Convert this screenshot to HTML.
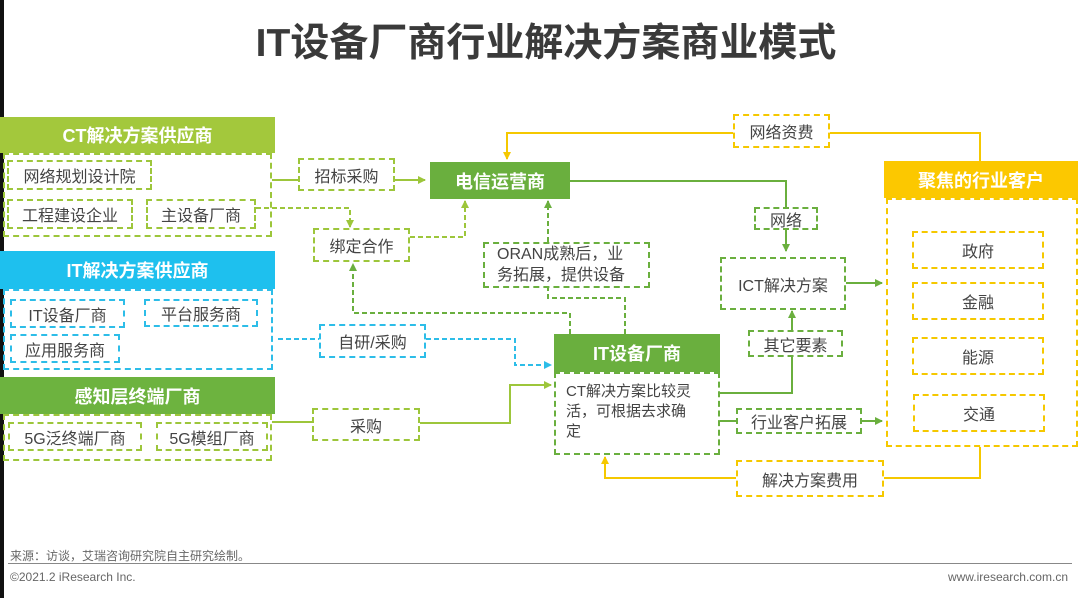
<!DOCTYPE html>
<html><head><meta charset="utf-8"><style>
body{margin:0;width:1080px;height:598px;position:relative;background:#fff;overflow:hidden;font-family:"Liberation Sans","Noto Sans CJK SC",sans-serif;color:#444}
.a{position:absolute;box-sizing:border-box;display:flex;align-items:center;justify-content:center;font-size:16px;white-space:nowrap}
.h{color:#fff;font-weight:bold;font-size:18px}
.g{border:2px dashed #9dc63b}
.c{border:2px dashed #2dbde8}
.y{border:2px dashed #f5c800}
.dg{border:2px dashed #6aaf3e}
svg{position:absolute;left:0;top:0}
</style></head><body>
<div style="position:absolute;left:0;top:0;width:4px;height:598px;background:#111"></div>
<div class="a" style="left:0;top:14px;width:1092px;height:52px;font-size:39px;font-weight:bold;color:#3a3a3a">IT设备厂商行业解决方案商业模式</div>

<svg width="1080" height="598">
<defs>
<marker id="mg" markerWidth="8" markerHeight="8" refX="7" refY="4" orient="auto" markerUnits="userSpaceOnUse"><path d="M0,0L8,4L0,8z" fill="#6aaf3e"/></marker>
<marker id="ml" markerWidth="8" markerHeight="8" refX="7" refY="4" orient="auto" markerUnits="userSpaceOnUse"><path d="M0,0L8,4L0,8z" fill="#9dc63b"/></marker>
<marker id="mc" markerWidth="8" markerHeight="8" refX="7" refY="4" orient="auto" markerUnits="userSpaceOnUse"><path d="M0,0L8,4L0,8z" fill="#2dbde8"/></marker>
<marker id="my" markerWidth="8" markerHeight="8" refX="7" refY="4" orient="auto" markerUnits="userSpaceOnUse"><path d="M0,0L8,4L0,8z" fill="#f5c800"/></marker>
</defs>
<g fill="none" stroke-width="2">
<path d="M272,180H298M395,180H425" stroke="#9dc63b" marker-end="url(#ml)"/>
<path d="M256,208H350V227" stroke="#9dc63b" stroke-dasharray="5,3" marker-end="url(#ml)"/>
<path d="M410,237H465V201" stroke="#9dc63b" stroke-dasharray="5,3" marker-end="url(#ml)"/>
<path d="M278,339H319M426,339H515V365H551" stroke="#2dbde8" stroke-dasharray="5,3" marker-end="url(#mc)"/>
<path d="M272,422H312M420,423H510V385H551" stroke="#9dc63b" marker-end="url(#ml)"/>
<path d="M570,334V313H353V264" stroke="#6aaf3e" stroke-dasharray="5,3" marker-end="url(#mg)"/>
<path d="M625,334V298H548V288" stroke="#6aaf3e" stroke-dasharray="5,3"/>
<path d="M548,242V201" stroke="#6aaf3e" stroke-dasharray="5,3" marker-end="url(#mg)"/>
<path d="M570,181H786V207" stroke="#6aaf3e"/>
<path d="M786,230V251" stroke="#6aaf3e" marker-end="url(#mg)"/>
<path d="M846,283H882" stroke="#6aaf3e" marker-end="url(#mg)"/>
<path d="M720,393H792V357" stroke="#6aaf3e"/>
<path d="M792,330V311" stroke="#6aaf3e" marker-end="url(#mg)"/>
<path d="M720,421H736" stroke="#6aaf3e"/>
<path d="M862,421H882" stroke="#6aaf3e" marker-end="url(#mg)"/>
<path d="M980,161V133H830M733,133H507V159" stroke="#f5c800" marker-end="url(#my)"/>
<path d="M980,447V478H884M736,478H605V457" stroke="#f5c800" marker-end="url(#my)"/>
</g>
</svg>

<div class="a h" style="left:0;top:117px;width:275px;height:36px;background:#a3c83c">CT解决方案供应商</div>
<div class="a g" style="left:3px;top:153px;width:269px;height:84px"></div>
<div class="a g" style="left:7px;top:160px;width:145px;height:30px">网络规划设计院</div>
<div class="a g" style="left:7px;top:199px;width:126px;height:30px">工程建设企业</div>
<div class="a g" style="left:146px;top:199px;width:110px;height:30px">主设备厂商</div>

<div class="a h" style="left:0;top:251px;width:275px;height:38px;background:#1ec0ee">IT解决方案供应商</div>
<div class="a c" style="left:3px;top:289px;width:270px;height:81px"></div>
<div class="a c" style="left:10px;top:299px;width:115px;height:29px">IT设备厂商</div>
<div class="a c" style="left:144px;top:299px;width:114px;height:28px">平台服务商</div>
<div class="a c" style="left:10px;top:334px;width:110px;height:29px">应用服务商</div>

<div class="a h" style="left:0;top:377px;width:275px;height:37px;background:#6db33f">感知层终端厂商</div>
<div class="a g" style="left:3px;top:414px;width:269px;height:47px"></div>
<div class="a g" style="left:8px;top:422px;width:134px;height:29px">5G泛终端厂商</div>
<div class="a g" style="left:156px;top:422px;width:112px;height:29px">5G模组厂商</div>

<div class="a g" style="left:298px;top:158px;width:97px;height:33px">招标采购</div>
<div class="a h" style="left:430px;top:162px;width:140px;height:37px;background:#6aaf3e">电信运营商</div>
<div class="a g" style="left:313px;top:228px;width:97px;height:34px">绑定合作</div>
<div class="a dg" style="left:483px;top:242px;width:167px;height:46px;white-space:normal;line-height:21px;justify-content:flex-start;padding-left:12px">ORAN成熟后，业<br>务拓展，提供设备</div>
<div class="a c" style="left:319px;top:324px;width:107px;height:34px">自研/采购</div>
<div class="a g" style="left:312px;top:408px;width:108px;height:33px">采购</div>

<div class="a h" style="left:554px;top:334px;width:166px;height:38px;background:#6aaf3e">IT设备厂商</div>
<div class="a dg" style="left:554px;top:372px;width:166px;height:83px;white-space:normal;line-height:20px;align-items:flex-start;justify-content:flex-start;padding:8px 10px;font-size:15px">CT解决方案比较灵<br>活，可根据去求确<br>定</div>

<div class="a y" style="left:733px;top:114px;width:97px;height:34px">网络资费</div>
<div class="a dg" style="left:754px;top:207px;width:64px;height:23px">网络</div>
<div class="a dg" style="left:720px;top:257px;width:126px;height:53px">ICT解决方案</div>
<div class="a dg" style="left:748px;top:330px;width:95px;height:27px">其它要素</div>
<div class="a dg" style="left:736px;top:408px;width:126px;height:26px">行业客户拓展</div>
<div class="a y" style="left:736px;top:460px;width:148px;height:37px">解决方案费用</div>

<div class="a h" style="left:884px;top:161px;width:194px;height:37px;background:#fcc800">聚焦的行业客户</div>
<div class="a y" style="left:886px;top:198px;width:192px;height:249px"></div>
<div class="a y" style="left:912px;top:231px;width:132px;height:38px">政府</div>
<div class="a y" style="left:912px;top:282px;width:132px;height:38px">金融</div>
<div class="a y" style="left:912px;top:337px;width:132px;height:38px">能源</div>
<div class="a y" style="left:913px;top:394px;width:132px;height:38px">交通</div>

<div style="position:absolute;left:10px;top:547px;font-size:12px;color:#666">来源：访谈，艾瑞咨询研究院自主研究绘制。</div>
<div style="position:absolute;left:8px;top:563px;width:1064px;height:1px;background:#888"></div>
<div style="position:absolute;left:10px;top:570px;font-size:12px;color:#666">©2021.2 iResearch Inc.</div>
<div style="position:absolute;right:12px;top:570px;font-size:12px;color:#666">www.iresearch.com.cn</div>
</body></html>
